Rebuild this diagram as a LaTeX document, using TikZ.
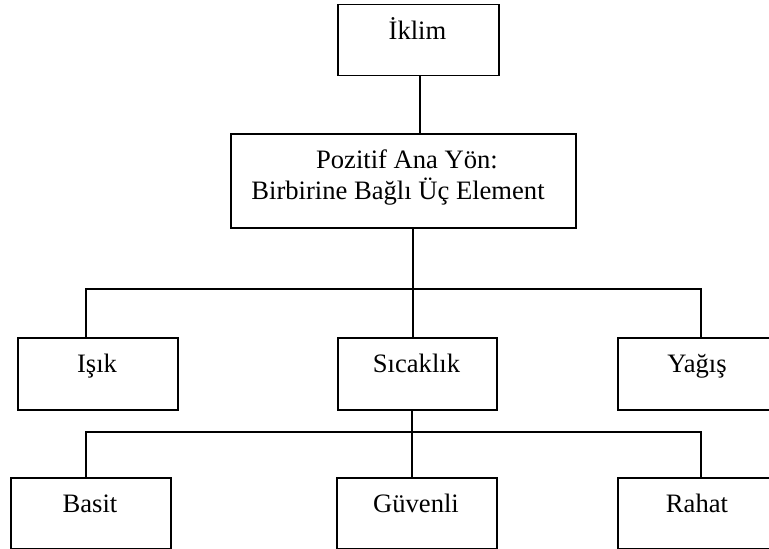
\documentclass[tikz,border=0pt]{standalone}
\usepackage{fontspec}
\setmainfont{Liberation Serif}
\begin{document}
\begin{tikzpicture}[x=1pt,y=-1pt,
  box/.style={draw, line width=1.8pt, inner sep=0pt, anchor=north west},
  txt/.style={anchor=base, inner sep=0pt, font=\fontsize{26.6}{31}\selectfont},
  conn/.style={line width=1.8pt}]
\useasboundingbox (0,0) rectangle (769,549);
% boxes
\node[box, minimum width=161pt, minimum height=71pt] (iklim) at (337,3.5) {};
\node[box, minimum width=345pt, minimum height=94pt] (main) at (230,133) {};
\node[box, minimum width=160pt, minimum height=72pt] (isik) at (17,337) {};
\node[box, minimum width=159pt, minimum height=72pt] (sicak) at (337,337) {};
\node[box, minimum width=160pt, minimum height=72pt] (yagis) at (617,337) {};
\node[box, minimum width=160pt, minimum height=71pt] (basit) at (10,477) {};
\node[box, minimum width=160pt, minimum height=71pt] (guvenli) at (336,477) {};
\node[box, minimum width=161pt, minimum height=71pt] (rahat) at (617,477) {};
% texts
\node[txt] (tiklim) at (417.5,39) {İklim};
\node[txt] (tmain1) at (407,168) {Pozitif Ana Yön:};
\node[txt] (tmain2) at (398,199) {Birbirine Bağlı Üç Element};
\node[txt] (tisik) at (97,372) {Işık};
\node[txt] (tsicak) at (416.5,372) {Sıcaklık};
\node[txt] (tyagis) at (697,372) {Yağış};
\node[txt] (tbasit) at (90,512) {Basit};
\node[txt] (tguvenli) at (416,512) {Güvenli};
\node[txt] (trahat) at (697,512) {Rahat};
% junction coordinates
\coordinate (j0) at (420,0);
\coordinate (j1) at (413,289);
\coordinate (b1L) at (86,289);
\coordinate (b1R) at (701,289);
\coordinate (j2) at (412,432);
\coordinate (b2L) at (86,432);
\coordinate (b2R) at (701,432);
% connectors
\draw[conn] (iklim.south -| j0) -- (main.north -| j0);
\draw[conn] (main.south -| j1) -- (j1);
\draw[conn] (isik.north -| b1L) -- (b1L) -- (b1R) -- (yagis.north -| b1R);
\draw[conn] (j1) -- (sicak.north -| j1);
\draw[conn] (sicak.south -| j2) -- (j2);
\draw[conn] (basit.north -| b2L) -- (b2L) -- (b2R) -- (rahat.north -| b2R);
\draw[conn] (j2) -- (guvenli.north -| j2);
\end{tikzpicture}
\end{document}
